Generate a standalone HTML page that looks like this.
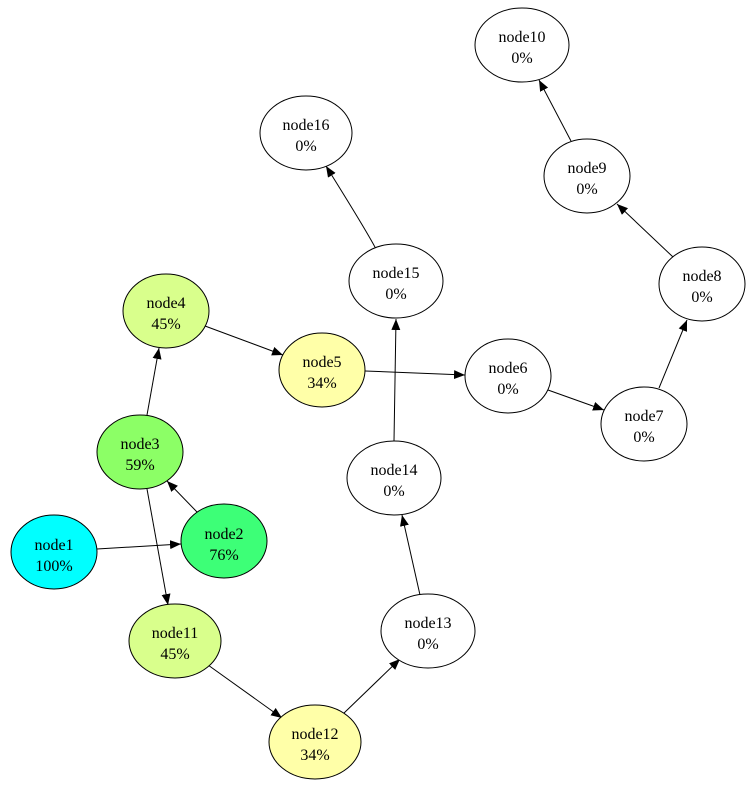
<!DOCTYPE html>
<html><head><meta charset="utf-8"><style>
html,body{margin:0;padding:0;background:#fff}
svg{display:block}
text{font-family:"Liberation Serif",serif;font-size:16px;text-anchor:middle;fill:#000}
</style></head><body>
<svg width="755" height="789" viewBox="0 0 755 789" xmlns="http://www.w3.org/2000/svg">
<defs><marker id="a" markerUnits="userSpaceOnUse" markerWidth="12" markerHeight="10" refX="11" refY="4.5" orient="auto"><path d="M0,0 L11,4.5 L0,9 Z" fill="#000"/></marker></defs>
<g stroke="#000" stroke-width="1" fill="none" marker-end="url(#a)">
<line x1="97" y1="549" x2="181" y2="544"/>
<line x1="197" y1="512" x2="167" y2="481"/>
<line x1="147" y1="415" x2="159" y2="348"/>
<line x1="205" y1="326" x2="283" y2="355"/>
<line x1="365" y1="371" x2="465" y2="375"/>
<line x1="548" y1="390" x2="604" y2="410"/>
<line x1="659" y1="388" x2="687" y2="320"/>
<line x1="673" y1="257" x2="617" y2="204"/>
<line x1="571" y1="141" x2="539" y2="80"/>
<line x1="147" y1="489" x2="168" y2="605"/>
<line x1="208" y1="665" x2="282" y2="718"/>
<line x1="343" y1="714" x2="400" y2="659"/>
<line x1="420" y1="595" x2="402" y2="515"/>
<line x1="394" y1="441" x2="396" y2="319"/>
<path d="M376,249 Q366,230 326,166"/>
</g>
<g stroke="#000" stroke-width="1">
<ellipse cx="54" cy="552" rx="43" ry="37" fill="#00ffff"/>
<ellipse cx="224" cy="541" rx="43" ry="37" fill="#3dff77"/>
<ellipse cx="140" cy="452" rx="43" ry="37" fill="#8cff66"/>
<ellipse cx="166" cy="311" rx="43" ry="37" fill="#d9ff8c"/>
<ellipse cx="322" cy="370" rx="43" ry="37" fill="#ffffa8"/>
<ellipse cx="508" cy="376" rx="43" ry="37" fill="#fff"/>
<ellipse cx="644" cy="424" rx="43" ry="37" fill="#fff"/>
<ellipse cx="702" cy="284" rx="43" ry="37" fill="#fff"/>
<ellipse cx="587" cy="176" rx="43" ry="37" fill="#fff"/>
<ellipse cx="522" cy="45" rx="47" ry="37" fill="#fff"/>
<ellipse cx="175" cy="641" rx="46" ry="37" fill="#d9ff8c"/>
<ellipse cx="315" cy="742" rx="46" ry="37" fill="#ffffa8"/>
<ellipse cx="428" cy="631" rx="47" ry="37" fill="#fff"/>
<ellipse cx="394" cy="478" rx="47" ry="37" fill="#fff"/>
<ellipse cx="396" cy="281" rx="47" ry="37" fill="#fff"/>
<ellipse cx="306" cy="133" rx="46" ry="37" fill="#fff"/>
</g>
<text x="54" y="550">node1</text><text x="54" y="571">100%</text>
<text x="224" y="539">node2</text><text x="224" y="560">76%</text>
<text x="140" y="449">node3</text><text x="140" y="470">59%</text>
<text x="166" y="308">node4</text><text x="166" y="329">45%</text>
<text x="322" y="367">node5</text><text x="322" y="388">34%</text>
<text x="508" y="373">node6</text><text x="508" y="394">0%</text>
<text x="644" y="421">node7</text><text x="644" y="442">0%</text>
<text x="702" y="281">node8</text><text x="702" y="302">0%</text>
<text x="587" y="173">node9</text><text x="587" y="194">0%</text>
<text x="522" y="42">node10</text><text x="522" y="63">0%</text>
<text x="175" y="638">node11</text><text x="175" y="659">45%</text>
<text x="315" y="739">node12</text><text x="315" y="760">34%</text>
<text x="428" y="628">node13</text><text x="428" y="649">0%</text>
<text x="394" y="475">node14</text><text x="394" y="496">0%</text>
<text x="396" y="278">node15</text><text x="396" y="299">0%</text>
<text x="306" y="130">node16</text><text x="306" y="151">0%</text>
</svg>
</body></html>
